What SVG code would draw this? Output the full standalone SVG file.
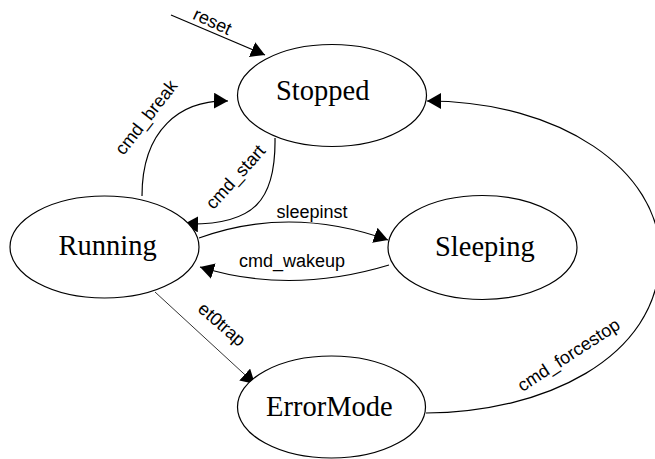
<svg xmlns="http://www.w3.org/2000/svg" width="655" height="459" viewBox="0 0 655 459">
<style>
.node ellipse{fill:#fff;stroke:#000;stroke-width:1.2}
.node text{font-family:"Liberation Serif","Times New Roman",serif;font-size:28.5px;fill:#000}
.edge{fill:none;stroke:#000;stroke-width:1.2;marker-end:url(#ah)}
.thin{stroke-width:0.8}
.lbl{font-family:"Liberation Sans",Arial,sans-serif;font-size:18px;fill:#000;text-anchor:middle}
</style>
<defs>
<marker id="ah" viewBox="0 0 14 16" refX="14" refY="8" markerWidth="14" markerHeight="16" markerUnits="userSpaceOnUse" orient="auto">
<path d="M0,0 L14,8 L0,16 z" fill="#000"/>
</marker>
</defs>
<rect width="655" height="459" fill="#fff"/>
<g id="connectors">
<path class="edge" d="M171,15 L265,55"/>
<path class="edge" d="M142,196 C142,130 180,100 228,101"/>
<path class="edge" d="M275,138 C276,200 255,226 184,224"/>
<path class="edge" d="M199,238 Q290,205 388,240"/>
<path class="edge" d="M389,265 Q290,295 200,267"/>
<path class="edge thin" d="M155,292 L255,384"/>
<path class="edge" d="M426,413 C540,413 660,360 660,255 C660,170 560,101 427,101"/>
<text class="lbl" transform="translate(210,27) rotate(25)">reset</text>
<text class="lbl" transform="translate(151,121) rotate(-52)">cmd_break</text>
<text class="lbl" transform="translate(240,181) rotate(-48)">cmd_start</text>
<text class="lbl" x="312" y="218">sleepinst</text>
<text class="lbl" x="292" y="267">cmd_wakeup</text>
<text class="lbl" transform="translate(218,329) rotate(41)">et0trap</text>
<text class="lbl" transform="translate(572,360) rotate(-33)">cmd_forcestop</text>
</g>
<g id="Stopped" class="node">
<ellipse cx="332" cy="95.5" rx="94.5" ry="51"/>
<text x="276" y="100">Stopped</text>
</g>
<g id="Running" class="node">
<ellipse cx="104.5" cy="247" rx="94.5" ry="51"/>
<text x="58.5" y="255">Running</text>
</g>
<g id="Sleeping" class="node">
<ellipse cx="482.5" cy="247.5" rx="94.5" ry="52"/>
<text x="435" y="256">Sleeping</text>
</g>
<g id="ErrorMode" class="node">
<ellipse cx="331.5" cy="407" rx="94" ry="51"/>
<text x="266" y="416">ErrorMode</text>
</g>
</svg>
